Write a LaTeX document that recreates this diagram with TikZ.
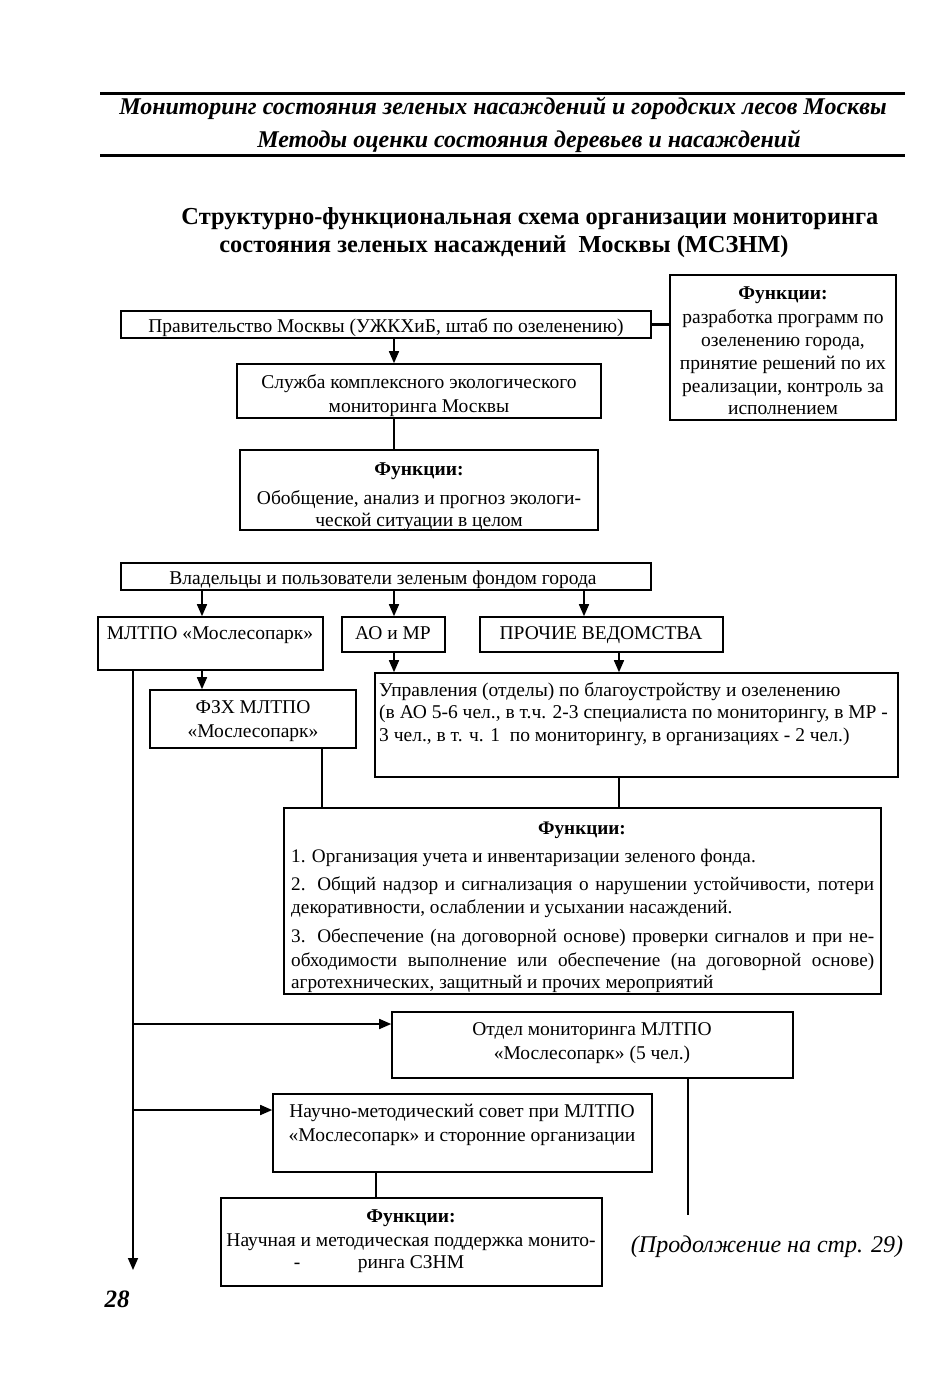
\documentclass[tikz,border=0pt]{standalone}
\usepackage{fontspec}
\setmainfont{Liberation Serif}
\usetikzlibrary{arrows.meta,fit}
\newcommand\fsbody{\fontsize{19.5}{22}\selectfont}
\newcommand\fssmall{\fontsize{19.2}{22}\selectfont}
\begin{document}
\begin{tikzpicture}[x=1pt,y=-1pt,
  box/.style={draw, line width=1.6pt, inner sep=0pt},
  lbl/.style={inner sep=0pt, anchor=mid, yshift=-5pt, font=\fsbody},
  lbll/.style={inner sep=0pt, anchor=mid west, yshift=-5pt, font=\fsbody},
  lbls/.style={inner sep=0pt, anchor=mid west, yshift=-5pt, font=\fssmall},
  arr/.style={line width=1.6pt, -{Triangle[length=12pt,width=10pt]}},
  ln/.style={line width=1.6pt}]
\useasboundingbox (0,0) rectangle (942,1374);
% header
\draw[line width=3pt] (100,93) -- (905,93);
\draw[line width=3pt] (100,155) -- (905,155);
\node[inner sep=0pt, anchor=mid, yshift=-5pt, font=\fontsize{24}{28}\selectfont\bfseries\itshape] (h1) at (503,107) {Мониторинг состояния зеленых насаждений и городских лесов Москвы};
\node[inner sep=0pt, anchor=mid, yshift=-5pt, font=\fontsize{24}{28}\selectfont\bfseries\itshape] (h2) at (529,140) {Методы оценки состояния деревьев и насаждений};
% title
\node[inner sep=0pt, anchor=mid, yshift=-5pt, font=\fontsize{24.4}{28}\selectfont\bfseries] (t1) at (530,217) {Структурно-функциональная схема организации мониторинга};
\node[inner sep=0pt, anchor=mid, yshift=-5pt, font=\fontsize{24.4}{28}\selectfont\bfseries] (t2) at (504,245) {состояния зеленых насаждений\ \ Москвы (МСЗНМ)};
% boxes
\node[box, fit={(121,311) (651,338)}] (gov) {};
\node[box, fit={(670,275) (896,420)}] (fn0) {};
\node[box, fit={(237,364) (601,418)}] (svc) {};
\node[box, fit={(240,450) (598,530)}] (fn1) {};
\node[box, fit={(121,563) (651,590)}] (own) {};
\node[box, fit={(98,617) (323,670)}] (mltpo) {};
\node[box, fit={(342,617) (445,652)}] (ao) {};
\node[box, fit={(480,617) (723,652)}] (pr) {};
\node[box, fit={(150,690) (356,748)}] (fzx) {};
\node[box, fit={(375,673) (898,777)}] (upr) {};
\node[box, fit={(284,808) (881,994)}] (fn2) {};
\node[box, fit={(392,1012) (793,1078)}] (otd) {};
\node[box, fit={(273,1094) (652,1172)}] (sci) {};
\node[box, fit={(221,1198) (602,1286)}] (fn3) {};
% texts
\node[lbl] (govt) at (386,325) {Правительство Москвы (УЖКХиБ, штаб по озеленению)};
\node[lbl, font=\fsbody\bfseries] (fn0a) at (783,292) {Функции:};
\node[lbl] (fn0b) at (783,316) {разработка программ по};
\node[lbl] (fn0c) at (783,339) {озеленению города,};
\node[lbl] (fn0d) at (783,362) {принятие решений по их};
\node[lbl] (fn0e) at (783,385) {реализации, контроль за};
\node[lbl] (fn0f) at (783,407) {исполнением};
\node[lbl] (svca) at (419,381) {Служба комплексного экологического};
\node[lbl] (svcb) at (419,405) {мониторинга Москвы};
\node[lbl, font=\fsbody\bfseries] (fn1a) at (419,468) {Функции:};
\node[lbl] (fn1b) at (419,497) {Обобщение, анализ и прогноз экологи-};
\node[lbl] (fn1c) at (419,519) {ческой ситуации в целом};
\node[lbl] (ownt) at (383,577) {Владельцы и пользователи зеленым фондом города};
\node[lbl] (mltpot) at (210,632) {МЛТПО «Мослесопарк»};
\node[lbl] (aot) at (393,632) {АО и МР};
\node[lbl] (prt) at (601,632) {ПРОЧИЕ ВЕДОМСТВА};
\node[lbl] (fzxa) at (253,706) {ФЗХ МЛТПО};
\node[lbl] (fzxb) at (253,730) {«Мослесопарк»};
\node[lbll] (upra) at (379,689) {Управления (отделы) по благоустройству и озеленению};
\node[lbll] (uprb) at (379,711) {(в АО 5-6 чел., в т.ч. 2-3 специалиста по мониторингу, в МР -};
\node[lbll] (uprc) at (379,734) {3 чел., в т. ч. 1\ \ по мониторингу, в организациях - 2 чел.)};
\node[lbl, font=\fssmall\bfseries] (fn2a) at (582,827) {Функции:};
\node[lbls] (fn2b) at (291,855) {1. Организация учета и инвентаризации зеленого фонда.};
\node[lbls] (fn2c) at (291,883) {\makebox[583pt][s]{2. Общий надзор и сигнализация о нарушении устойчивости, потери}};
\node[lbls] (fn2d) at (291,906) {декоративности, ослаблении и усыхании насаждений.};
\node[lbls] (fn2e) at (291,935) {\makebox[583pt][s]{3. Обеспечение (на договорной основе) проверки сигналов и при не-}};
\node[lbls] (fn2f) at (291,959) {\makebox[583pt][s]{обходимости выполнение или обеспечение (на договорной основе)}};
\node[lbls] (fn2g) at (291,981) {агротехнических, защитный и прочих мероприятий};
\node[lbl] (otda) at (592,1028) {Отдел мониторинга МЛТПО};
\node[lbl] (otdb) at (592,1052) {«Мослесопарк» (5 чел.)};
\node[lbl] (scia) at (462,1110) {Научно-методический совет при МЛТПО};
\node[lbl] (scib) at (462,1134) {«Мослесопарк» и сторонние организации};
\node[lbl, font=\fsbody\bfseries] (fn3a) at (411,1215) {Функции:};
\node[lbl] (fn3b) at (411,1239) {Научная и методическая поддержка монито-};
\node[lbl] (fn3c) at (297,1261) {-};
\node[lbl] (fn3d) at (411,1261) {ринга СЗНМ};
\node[inner sep=0pt, anchor=mid, yshift=-5pt, font=\fontsize{24}{28}\selectfont\itshape] (cont) at (767,1245) {(Продолжение на стр. 29)};
\node[inner sep=0pt, anchor=mid, yshift=-5pt, font=\fontsize{25}{28}\selectfont\bfseries\itshape] (pg) at (117,1300) {28};
% column coordinates
\coordinate (c133) at (133,0);
\coordinate (c202) at (202,0);
\coordinate (c322) at (322,0);
\coordinate (c376) at (376,0);
\coordinate (c394) at (394,0);
\coordinate (c584) at (584,0);
\coordinate (c619) at (619,0);
\coordinate (c688) at (688,0);
\coordinate (lend) at (133,1270);
\coordinate (b1) at (133,1024);
\coordinate (b2) at (133,1110);
\coordinate (oend) at (688,1215);
% connectors
\draw[line width=3pt] (gov.east) -- (gov.east -| fn0.west);
\draw[arr] (gov.south -| c394) -- (svc.north -| c394);
\draw[ln] (svc.south -| c394) -- (fn1.north -| c394);
\draw[arr] (own.south -| c202) -- (mltpo.north -| c202);
\draw[arr] (own.south -| c394) -- (ao.north -| c394);
\draw[arr] (own.south -| c584) -- (pr.north -| c584);
\draw[arr] (mltpo.south -| c202) -- (fzx.north -| c202);
\draw[arr] (ao.south -| c394) -- (upr.north -| c394);
\draw[arr] (pr.south -| c619) -- (upr.north -| c619);
\draw[ln] (fzx.south -| c322) -- (fn2.north -| c322);
\draw[ln] (upr.south -| c619) -- (fn2.north -| c619);
\draw[arr] (mltpo.south -| c133) -- (lend);
\draw[arr] (b1) -- (b1 -| otd.west);
\draw[arr] (b2) -- (b2 -| sci.west);
\draw[ln] (sci.south -| c376) -- (fn3.north -| c376);
\draw[ln] (otd.south -| c688) -- (oend);
\end{tikzpicture}
\end{document}
